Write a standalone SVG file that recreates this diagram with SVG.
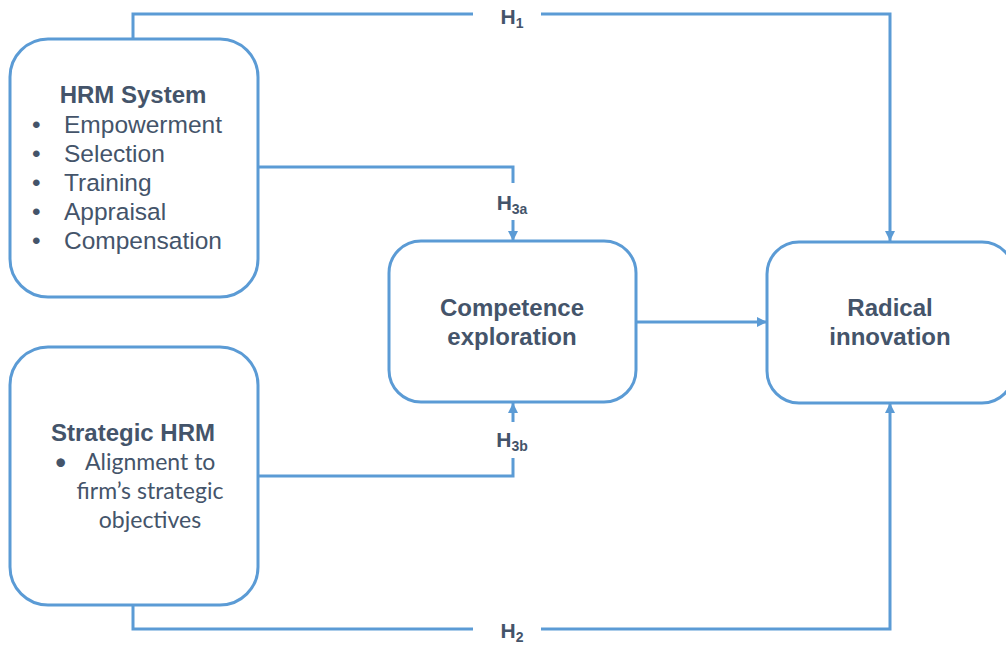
<svg xmlns="http://www.w3.org/2000/svg" width="1006" height="646" viewBox="0 0 1006 646">
<style>
.box{fill:#fff;stroke:#5B9BD5;stroke-width:3}
.ln{fill:none;stroke:#5B9BD5;stroke-width:3}
.t{font-family:"Liberation Sans",Arial,sans-serif;fill:#44546A}
.b{font-weight:bold;font-size:24px}
.r{font-size:24.5px}
.c{font-family:Lato,"Liberation Sans",sans-serif;fill:#44546A;font-size:23px}
.h{font-family:"Liberation Sans",Arial,sans-serif;fill:#44546A;font-weight:bold;font-size:21px}
.s{font-size:14px}
</style>
<defs>
<marker id="ah" viewBox="0 0 10 10" refX="10" refY="5" markerWidth="10" markerHeight="10" markerUnits="userSpaceOnUse" orient="auto">
<path d="M0,0 L10,5 L0,10 z" fill="#5B9BD5"/>
</marker>
</defs>
<g id="connectors">
<path class="ln" d="M133,39 V14 H473"/>
<path class="ln" d="M541,14 H890 V241" marker-end="url(#ah)"/>
<path class="ln" d="M258,167 H513 V183"/>
<path class="ln" d="M513,220 V241" marker-end="url(#ah)"/>
<path class="ln" d="M258,476 H513 V458"/>
<path class="ln" d="M513,422 V403" marker-end="url(#ah)"/>
<path class="ln" d="M133,605 V629 H473"/>
<path class="ln" d="M541,629 H890 V403" marker-end="url(#ah)"/>
<path class="ln" d="M636,322 H767" marker-end="url(#ah)"/>
<text class="h" x="512" y="24" text-anchor="middle">H<tspan class="s" dy="4">1</tspan></text>
<text class="h" x="512" y="210" text-anchor="middle">H<tspan class="s" dy="4">3a</tspan></text>
<text class="h" x="512" y="447" text-anchor="middle">H<tspan class="s" dy="4">3b</tspan></text>
<text class="h" x="512" y="638" text-anchor="middle">H<tspan class="s" dy="4">2</tspan></text>
</g>
<g id="hrm-system">
<rect class="box" x="10" y="39" width="248" height="258" rx="38"/>
<text class="t b" x="133" y="103" text-anchor="middle">HRM System</text>
<g class="t r">
<text x="32" y="133">•</text><text x="64" y="133">Empowerment</text>
<text x="32" y="162">•</text><text x="64" y="162">Selection</text>
<text x="32" y="191">•</text><text x="64" y="191">Training</text>
<text x="32" y="220">•</text><text x="64" y="220">Appraisal</text>
<text x="32" y="249">•</text><text x="64" y="249">Compensation</text>
</g>
</g>
<g id="strategic-hrm">
<rect class="box" x="10" y="347" width="248" height="258" rx="38"/>
<text class="t b" x="133" y="441" text-anchor="middle">Strategic HRM</text>
<text class="c" x="54" y="470">•</text>
<text class="c" x="85" y="470">Alignment to</text>
<text class="c" x="150" y="499" text-anchor="middle">firm’s strategic</text>
<text class="c" x="150" y="528" text-anchor="middle">objectives</text>
</g>
<g id="competence-exploration">
<rect class="box" x="389" y="241" width="247" height="161" rx="32"/>
<text class="t b" x="512" y="316" text-anchor="middle">Competence</text>
<text class="t b" x="512" y="345" text-anchor="middle">exploration</text>
</g>
<g id="radical-innovation">
<rect class="box" x="767" y="242" width="247" height="161" rx="32"/>
<text class="t b" x="890" y="316" text-anchor="middle">Radical</text>
<text class="t b" x="890" y="345" text-anchor="middle">innovation</text>
</g>
</svg>
